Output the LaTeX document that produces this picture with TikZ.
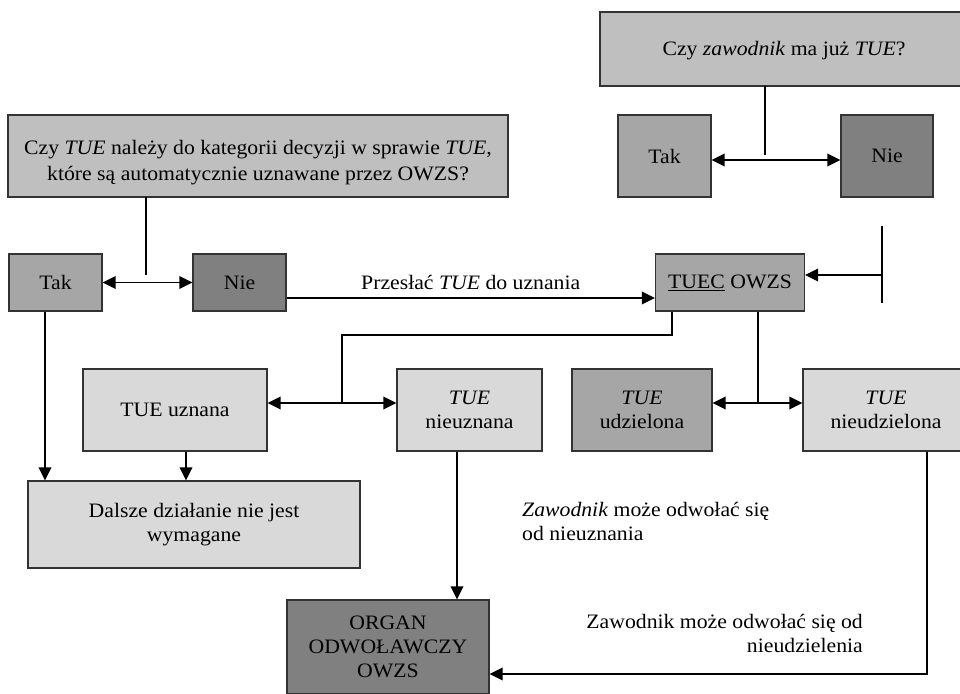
\documentclass[tikz,border=0pt]{standalone}
\usepackage{fontspec}
\setmainfont[FakeStretch=1.06]{Liberation Serif}
\usetikzlibrary{arrows.meta}
\definecolor{qgray}{HTML}{BFBFBF}
\definecolor{mgray}{HTML}{A6A6A6}
\definecolor{dgray}{HTML}{808080}
\definecolor{lgray}{HTML}{D9D9D9}
\definecolor{edge}{HTML}{333333}
\tikzset{
  box/.style={draw=edge, line width=1.1pt, align=center, inner sep=0pt, rectangle,
    font=\fontsize{20.5}{24}\selectfont},
  conn/.style={line width=1.9pt, black},
  tipped/.style={conn, -{Triangle[length=13pt,width=12.5pt]}},
  twotip/.style={conn, {Triangle[length=13pt,width=12.5pt]}-{Triangle[length=13pt,width=12.5pt]}},
  lbl/.style={font=\fontsize{20.5}{24}\selectfont, inner sep=0pt}
}
\begin{document}
\begin{tikzpicture}[x=1pt,y=-1pt]
\useasboundingbox (0,0) rectangle (960,693);
% boxes
\node[box, fill=qgray, minimum width=500, minimum height=82] (q1) at (258,156) {};
\node[lbl, align=center, font=\fontsize{20.5}{26}\selectfont] (q1t) at (258,163)
  {Czy \textit{TUE} należy do kategorii decyzji w sprawie \textit{TUE},\\które są automatycznie uznawane przez OWZS?};
\node[box, fill=mgray, minimum width=93, minimum height=57] (tak1) at (55.5,282.5) {Tak};
\node[box, fill=dgray, minimum width=93, minimum height=57] (nie1) at (239.5,282.5) {Nie};
\node[box, fill=qgray, minimum width=368, minimum height=74] (q2) at (784,49) {};
\node[lbl] (q2t) at (784,51) {Czy \textit{zawodnik} ma już \textit{TUE}?};
\node[box, fill=mgray, minimum width=93, minimum height=82] (tak2) at (664.5,156) {Tak};
\node[box, fill=dgray, minimum width=92, minimum height=82] (nie2) at (887,156) {Nie};
\node[box, fill=mgray, minimum width=149, minimum height=57] (tuec) at (730,282.5) {\underline{TUEC} OWZS};
\node[box, fill=lgray, minimum width=184, minimum height=82] (uzn) at (175,410) {TUE uznana};
\node[box, fill=lgray, minimum width=145, minimum height=82] (nieuzn) at (469.5,410) {\textit{TUE}\\nieuznana};
\node[box, fill=mgray, minimum width=140, minimum height=82] (udz) at (642,410) {\textit{TUE}\\udzielona};
\node[box, fill=lgray, minimum width=166, minimum height=82] (nieudz) at (886,410) {\textit{TUE}\\nieudzielona};
\node[box, fill=lgray, minimum width=332, minimum height=87] (dalsze) at (194,524.5) {Dalsze działanie nie jest\\wymagane};
\node[box, fill=dgray, minimum width=202, minimum height=94] (organ) at (388,647) {ORGAN\\ODWOŁAWCZY\\OWZS};
% coordinates
\coordinate (a1) at (146,197);
\coordinate (a2) at (146,275);
\coordinate (b1) at (765,86);
\coordinate (b2) at (765,155);
\coordinate (c1) at (882,226);
\coordinate (c2) at (882,303);
\coordinate (c3) at (882,275);
\coordinate (d1) at (672,335);
\coordinate (d2) at (342,335);
\coordinate (d3) at (342,403);
\coordinate (e1) at (758,403);
\coordinate (f1) at (927,674);
% connectors
\draw[conn] (a1) -- (a2);
\draw[twotip] (tak1.east) -- (nie1.west);
\draw[tipped] (nie1.east |- 0,298) -- node[lbl, above=7pt] {Przesłać \textit{TUE} do uznania} (tuec.west |- 0,298);
\draw[conn] (b1) -- (b2);
\draw[twotip] (tak2.east |- 0,160) -- (nie2.west |- 0,160);
\draw[conn] (c1) -- (c2);
\draw[tipped] (c3) -- (tuec.east |- c3);
\draw[conn] (tuec.south -| d1) -- (d1) -- (d2) -- (d3);
\draw[twotip] (uzn.east |- d3) -- (nieuzn.west |- d3);
\draw[conn] (tuec.south -| e1) -- (e1);
\draw[twotip] (udz.east |- e1) -- (nieudz.west |- e1);
\draw[tipped] (tak1.south -| 45,0) -- (dalsze.north -| 45,0);
\draw[tipped] (uzn.south -| 186,0) -- (dalsze.north -| 186,0);
\draw[tipped] (nieuzn.south -| 457,0) -- (organ.north -| 457,0);
\draw[tipped] (nieudz.south -| f1) -- (f1) -- (organ.east |- f1);
% free labels
\node[lbl, align=left, anchor=north west] (t1) at (522,502) {\textit{Zawodnik} może odwołać się\\od nieuznania};
\node[lbl, align=right, anchor=north east] (t2) at (863,614) {Zawodnik może odwołać się od\\nieudzielenia};
\end{tikzpicture}
\end{document}
